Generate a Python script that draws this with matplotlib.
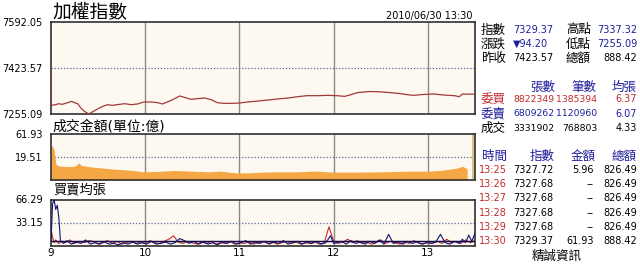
import numpy as np
import matplotlib
matplotlib.use('Agg')
import matplotlib.pyplot as plt

plt.rcParams['font.family'] = ['DejaVu Sans', 'Noto Sans CJK TC']

W, H = 640, 268

# minutes after 09:00
idx_min = [0, 0, 3, 5, 7, 10, 13, 15, 17, 19, 21, 24, 27, 30, 33, 36, 39, 42, 47, 51,
           55, 59, 64, 68, 71, 74, 77, 82, 85, 89, 93, 98, 102, 106, 110, 115, 120, 125, 132, 138,
           144, 151, 157, 163, 170, 176, 182, 187, 191, 195, 202, 208, 214, 221, 227, 231, 238, 244, 250, 257,
           260, 262, 265, 269, 270]
idx_val = [7423.57, 7286.8, 7289.2, 7292.9, 7290.4, 7295.3, 7301.4, 7296.5, 7292.9, 7277.0,
           7266.0, 7255.1, 7264.8, 7274.6, 7283.1, 7289.2, 7286.8, 7289.2, 7292.9, 7289.2,
           7291.7, 7299.0, 7299.0, 7296.5, 7291.7, 7299.0, 7306.3, 7321.0, 7316.1, 7308.7,
           7311.2, 7313.6, 7307.5, 7296.5, 7294.1, 7294.1, 7295.3, 7299.0, 7302.6, 7306.3,
           7310.0, 7313.6, 7318.5, 7322.2, 7322.2, 7323.4, 7322.2, 7319.7, 7325.8, 7333.2,
           7337.3, 7336.8, 7334.4, 7330.7, 7325.8, 7323.4, 7327.1, 7328.3, 7324.6, 7322.2,
           7318.5, 7328.3, 7327.72, 7327.68, 7329.37]
prev_close = 7423.57
idx_lo, idx_hi = 7255.09, 7592.05

vol_min = [0, 1, 2, 3, 4, 6, 11, 15, 18, 19, 25, 32, 40, 51, 59, 68, 78, 89, 100, 108,
           117, 125, 136, 146, 157, 168, 176, 180, 189, 199, 210, 221, 231, 240, 248, 254, 259, 262, 265]
vol_val = [37.2, 37.2, 30.0, 11.1, 9.3, 8.3, 8.0, 8.3, 11.9, 9.3, 7.7, 6.7, 5.6, 4.7, 3.5, 3.75, 4.5, 4.0, 3.5, 4.0,
           2.8, 2.8, 3.3, 3.5, 3.5, 4.0, 3.5, 3.3, 3.3, 3.3, 3.5, 3.75, 4.0, 4.0, 4.5, 5.6, 6.7, 8.3, 5.96]
close_min, close_vol = 270, 61.93
vol_mid = 19.51

sell_min = [0, 1, 2, 3, 4, 5, 6, 8, 10] + list(range(13, 179, 3)) + [180, 182] + list(range(185, 261, 3)) + [262, 264, 266, 268, 270]
sell_val = [6, 60, 66, 52, 58, 40, 7, 3, 7,
            2, 5, 3, 8, 2, 4, 2, 5, 2, 3, 1, 4, 2, 5, 2, 4, 2, 6, 2, 3,
            5, 2, 4, 10, 7, 3, 6, 2, 5, 2, 4, 1, 5, 3, 6, 2, 4, 7, 2, 5,
            3, 6, 2, 5, 3, 7, 2, 4, 6, 2, 5, 3, 6, 2, 4, 14,
            3, 4,
            6, 2, 7, 3, 5, 2, 6, 3, 8, 2, 16, 3, 5, 2, 6, 3, 5, 2, 4, 3, 5, 16, 4, 2, 6, 3,
            9, 4, 15, 6, 18]
buy_min = [0, 1, 2, 3, 5, 7, 9] + list(range(12, 271, 3))
buy_val = [24, 12, 4, 8, 3, 6, 4,
           8, 3, 6, 4, 7, 6, 2, 5, 7, 3, 6, 2, 4, 6, 3, 5, 3, 7, 4, 3,
           6, 9, 14, 5, 3, 6, 4, 2, 5, 3, 6, 2, 4, 3, 6, 2, 4, 3, 5, 2,
           4, 6, 3, 5, 2, 4, 6, 3, 5, 2, 4, 3, 5, 2, 4, 27, 6, 3, 5, 9,
           4, 7, 3, 5, 2, 4, 8, 3, 6, 4, 2, 5, 3, 7, 4, 2, 5, 3, 6, 3,
           9, 4, 6, 3, 8, 4, 7]
buy_avg, sell_avg = 6.37, 6.07
lot_hi = 66.29

hour_labels = ['9', '10', '11', '12', '13']

info_left = [('指數', '7329.37'), ('漲跌', '▼94.20'), ('昨收', '7423.57')]
info_right = [('高點', '7337.32'), ('低點', '7255.09'), ('總額', '888.42')]
order_head = ['張數', '筆數', '均張']
order_rows = [('委買', '8822349', '1385394', '6.37'),
              ('委賣', '6809262', '1120960', '6.07'),
              ('成交', '3331902', '768803', '4.33')]
tick_head = ['時間', '指數', '金額', '總額']
tick_time = ['13:25', '13:26', '13:27', '13:28', '13:29', '13:30']
tick_index = ['7327.72', '7327.68', '7327.68', '7327.68', '7327.68', '7329.37']
tick_amount = ['5.96', '--', '--', '--', '--', '61.93']
tick_total = ['826.49', '826.49', '826.49', '826.49', '826.49', '888.42']

BG = '#fdf9f0'
DOT = '#5b6aa0'
BLUE = '#1e1e9c'
RED = '#c42a2a'
NUM = 6.7

fig = plt.figure(figsize=(6.4, 2.68), dpi=100)


def box(x0, y0, x1, y1):
    return [x0 / W, 1 - y1 / H, (x1 - x0) / W, (y1 - y0) / H]


def txt(x, y, s, **kw):
    kw.setdefault('fontsize', NUM)
    kw.setdefault('va', 'center')
    fig.text(x / W, 1 - y / H, s, **kw)


def style(ax, ticks, labels, mid):
    ax.set_facecolor(BG)
    ax.set_xlim(0, 270)
    for h in [60, 120, 180, 240]:
        ax.axvline(h, color='#8a8a8a', lw=1, zorder=1)
    ax.axhline(mid, color=DOT, lw=0.9, ls=(0, (1, 1.5)), zorder=1)
    ax.set_yticks(ticks)
    ax.set_yticklabels(labels)
    ax.tick_params(length=0, labelsize=7, pad=6)
    ax.set_xticks([])
    for s in ax.spines.values():
        s.set_color('#303030')
        s.set_linewidth(1.2)


# index
ax1 = fig.add_axes(box(51, 22, 475, 114))
ax1.set_ylim(idx_lo, idx_hi)
style(ax1, [idx_lo, prev_close, idx_hi], ['%.2f' % v for v in [idx_lo, prev_close, idx_hi]], prev_close)
ax1.plot(idx_min, idx_val, color='#a03a3a', lw=0.9, zorder=3)

# amount (scale puts 19.51 at the middle line)
p = np.log(0.5) / np.log(vol_mid / close_vol)
ax2 = fig.add_axes(box(51, 134, 475, 180))
ax2.set_yscale('function', functions=(lambda v: np.power(np.clip(v, 0, None), p),
                                      lambda v: np.power(np.clip(v, 0, None), 1 / p)))
ax2.set_ylim(0, close_vol)
style(ax2, [vol_mid, close_vol], ['%.2f' % vol_mid, '%.2f' % close_vol], vol_mid)
ax2.fill_between(vol_min, 0, vol_val, color='#f6a745', lw=0, zorder=2)
ax2.bar(close_min - 0.9, close_vol, width=1.6, color='#d9c088', lw=0, zorder=2)

# average lots
ax3 = fig.add_axes(box(51, 199.5, 475, 245.5))
ax3.set_ylim(0, lot_hi)
style(ax3, [lot_hi / 2, lot_hi], ['%.2f' % (lot_hi / 2), '%.2f' % lot_hi], lot_hi / 2)
ax3.plot(buy_min, buy_val, color=RED, lw=0.8, zorder=3)
ax3.plot(sell_min, sell_val, color='#12127a', lw=0.8, zorder=4)
ax3.axhline(buy_avg, color='#5a1010', lw=0.9, zorder=5)
ax3.axhline(sell_avg, color='#10105a', lw=0.9, zorder=5)
ax3.set_xticks([0, 60, 120, 180, 240])
ax3.set_xticklabels(hour_labels)
ax3.tick_params(axis='x', length=0, labelsize=7.5, pad=1.5)

# titles
txt(52, 13, '加權指數', fontsize=13.5)
txt(473, 16, '2010/06/30 13:30', ha='right', fontsize=7)
txt(52, 127, '成交金額(單位:億)', fontsize=10)
txt(53, 190, '買賣均張', fontsize=9.5)

# quote block
for i, (lab, val) in enumerate(info_left):
    y = 30 + i * 14.2
    txt(481, y, lab, fontsize=9)
    txt(513, y, val, color=BLUE if i < 2 else 'black', fontsize=7)
for i, (lab, val) in enumerate(info_right):
    y = 30 + i * 14.2
    txt(566, y, lab, fontsize=9)
    txt(637, y, val, ha='right', color=BLUE if i < 2 else 'black', fontsize=7)

for j, h in enumerate(order_head):
    txt([555, 596, 637][j], 87, h, ha='right', fontsize=9, color=BLUE)
row_col = [RED, BLUE, 'black']
for i, (lab, a, b, c) in enumerate(order_rows):
    y = 99.5 + i * 14.3
    txt(481, y, lab, fontsize=9, color=row_col[i])
    txt(554, y, a, ha='right', color=row_col[i])
    txt(597, y, b, ha='right', color=row_col[i])
    txt(637, y, c, ha='right', color=row_col[i], fontsize=7)

txt(482, 156, tick_head[0], fontsize=9, color=BLUE)
for j, h in enumerate(tick_head[1:]):
    txt([555, 596, 637][j], 156, h, ha='right', fontsize=9, color=BLUE)
for i in range(len(tick_time)):
    y = 170 + i * 14.2
    txt(479, y, tick_time[i], color=RED, fontsize=7)
    txt(513, y, tick_index[i], fontsize=7)
    txt(594, y, tick_amount[i], ha='right', fontsize=7)
    txt(637, y, tick_total[i], ha='right', fontsize=7)

txt(557, 256, '精誠資訊', ha='center', fontsize=9)

fig.savefig('out.png', dpi=100)
